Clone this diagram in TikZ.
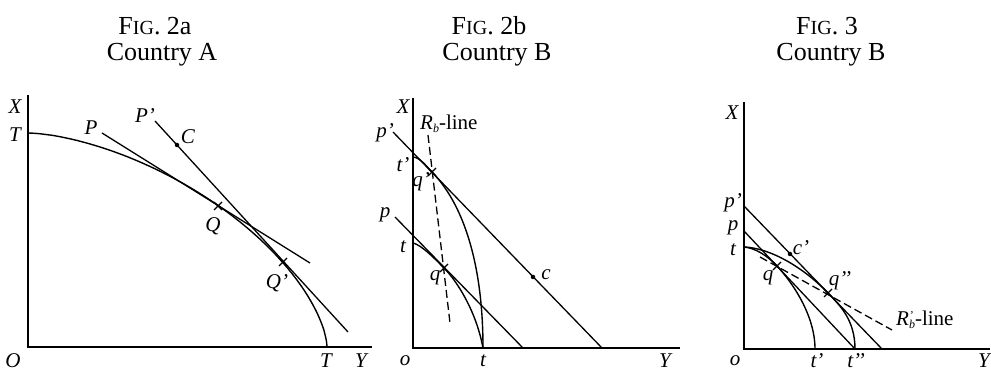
\documentclass[tikz,border=0pt]{standalone}
\usepackage{fontspec}
\setmainfont{Liberation Serif}
\begin{document}
\begin{tikzpicture}[x=1pt,y=-1pt,
  axis/.style={line width=1.5pt},
  curve/.style={line width=1.4pt},
  pline/.style={line width=1.3pt},
  rline/.style={line width=1.3pt,dash pattern=on 8pt off 4pt},
  lab/.style={font=\fontsize{21}{23}\selectfont\itshape,inner sep=0pt},
  ttl/.style={font=\fontsize{26}{28}\selectfont,inner sep=0pt,anchor=base},
  dotm/.style={circle,fill,inner sep=0pt,minimum size=4.5pt},
  tickm/.style={line width=1.2pt}]
\useasboundingbox (0,0) rectangle (991,371);

% ---------- titles ----------
\node[ttl] (f2a) at (155,35) {F{\fontsize{20}{22}\selectfont IG}. 2a};
\node[ttl] (c2a) at (162,61) {Country A};
\node[ttl] (f2b) at (489,35) {F{\fontsize{20}{22}\selectfont IG}. 2b};
\node[ttl] (c2b) at (497,61) {Country B};
\node[ttl] (f3) at (827,35) {F{\fontsize{20}{22}\selectfont IG}. 3};
\node[ttl] (c3) at (831,61) {Country B};

% ---------- Fig 2a ----------
\coordinate (X1) at (28,95);
\coordinate (O1) at (28,347);
\coordinate (Y1) at (372,347);
\draw[axis] (X1) -- (O1) -- (Y1);
\coordinate (T1a) at (28,133);
\coordinate (T1b) at (327,347);
\draw[curve] (T1b) -- plot[domain=0.5:89.5,samples=90,variable=\t]
  ({28+299*cos(\t)^1.25},{347-214*sin(\t)^1.25}) -- (T1a);
\coordinate (P1s) at (102,133);
\coordinate (P1e) at (310,263);
\coordinate (P2s) at (155,121);
\coordinate (P2e) at (348,332);
\draw[pline] (P1s) -- (P1e);
\draw[pline] (P2s) -- (P2e);
\coordinate (Q) at (218,206);
\coordinate (Qp) at (283,262);
\node[dotm] (C) at (177,145) {};
\draw[tickm] (Q) +(-4,-4) -- +(4,4) (Q) +(-4,4) -- +(4,-4);
\draw[tickm] (Qp) +(-4,-4) -- +(4,4) (Qp) +(-4,4) -- +(4,-4);
\node[lab] (lX1) at (15,107) {X};
\node[lab] (lT1) at (15,135) {T};
\node[lab] (lP) at (91,128) {P};
\node[lab] (lPp) at (145,116) {P'};
\node[lab] (lC) at (188,137) {C};
\node[lab] (lQ) at (213,226) {Q};
\node[lab] (lQp) at (277,283) {Q'};
\node[lab] (lO1) at (13,361) {O};
\node[lab] (lT1b) at (326,361) {T};
\node[lab] (lY1) at (361,361) {Y};

% ---------- Fig 2b ----------
\coordinate (X2) at (413,98);
\coordinate (O2) at (413,348);
\coordinate (Y2) at (680,348);
\draw[axis] (X2) -- (O2) -- (Y2);
\coordinate (pp2s) at (393,132);
\coordinate (pp2e) at (602,348);
\coordinate (p2s) at (395,217);
\coordinate (p2e) at (523,348);
\draw[pline] (pp2s) -- (pp2e);
\draw[pline] (p2s) -- (p2e);
\coordinate (R2s) at (428,135);
\coordinate (R2e) at (450,323);
\draw[rline] (R2s) -- (R2e);
\coordinate (tp2) at (413,157);
\coordinate (qp2) at (432,172);
\coordinate (tb2) at (483,348);
\coordinate (t2) at (413,243);
\coordinate (q2) at (444,268);
\draw[curve] (tp2) .. controls (420,157.5) and (426,165.8) .. (qp2)
  .. controls (464,205) and (483,265) .. (tb2);
\draw[curve] (t2) .. controls (422,245) and (437,261) .. (q2)
  .. controls (456,280) and (476,310) .. (tb2);
\draw[tickm] (qp2) +(-4,-4) -- +(4,4) (qp2) +(-4,4) -- +(4,-4);
\draw[tickm] (q2) +(-4,-4) -- +(4,4) (q2) +(-4,4) -- +(4,-4);
\node[dotm] (c2) at (533,277) {};
\node[lab] (lX2) at (403,107) {X};
\node[lab,anchor=west] (lR2) at (420,124) {R\raisebox{-0.35ex}{\fontsize{12}{13}\selectfont b}\upshape -line};
\node[lab] (lpp2) at (385,133) {p'};
\node[lab] (ltp2) at (403,165) {t'};
\node[lab] (lqp2) at (421,182) {q'};
\node[lab] (lp2) at (385,215) {p};
\node[lab] (lt2) at (403,247) {t};
\node[lab] (lq2) at (435,278) {q};
\node[lab] (lc2) at (546,275) {c};
\node[lab] (lo2) at (405,361) {o};
\node[lab] (ltb2) at (483,361) {t};
\node[lab] (lY2) at (665,361) {Y};

% ---------- Fig 3 ----------
\coordinate (X3) at (744,102);
\coordinate (O3) at (744,349);
\coordinate (Y3) at (990,349);
\draw[axis] (X3) -- (O3) -- (Y3);
\coordinate (pp3s) at (744,206);
\coordinate (pp3e) at (882,349);
\coordinate (p3s) at (744,231);
\coordinate (p3e) at (855,349);
\draw[pline] (pp3s) -- (pp3e);
\draw[pline] (p3s) -- (p3e);
\coordinate (R3s) at (760,257);
\coordinate (R3e) at (892,330);
\draw[rline] (R3s) -- (R3e);
\coordinate (t3) at (744,247);
\coordinate (q3) at (777,266);
\coordinate (qpp3) at (828,293);
\coordinate (tp3) at (815,349);
\coordinate (tpp3) at (855,349);
\draw[curve] (t3) .. controls (755,248) and (767,255.3) .. (q3)
  .. controls (792,282) and (815,315) .. (tp3);
\draw[curve] (t3) .. controls (770,248) and (803,267) .. (qpp3)
  .. controls (840,305.5) and (855,320) .. (tpp3);
\draw[tickm] (q3) +(-4,-4) -- +(4,4) (q3) +(-4,4) -- +(4,-4);
\draw[tickm] (qpp3) +(-4,-4) -- +(4,4) (qpp3) +(-4,4) -- +(4,-4);
\node[dotm] (c3) at (790,254) {};
\node[lab] (lX3) at (732,113) {X};
\node[lab] (lpp3) at (733,203) {p'};
\node[lab] (lp3) at (733,228) {p};
\node[lab] (lt3) at (733,250) {t};
\node[lab] (lc3) at (801,248) {c'};
\node[lab] (lq3) at (768,278) {q};
\node[lab] (lqpp3) at (840,281) {q{'}{'}};
\node[lab,anchor=west] (lR3) at (896,320) {R\rlap{\raisebox{0.6ex}{\fontsize{12}{13}\selectfont '}}\raisebox{-0.35ex}{\fontsize{12}{13}\selectfont b}\upshape -line};
\node[lab] (lo3) at (735,361) {o};
\node[lab] (ltp3) at (817,361) {t'};
\node[lab] (ltpp3) at (856,361) {t{'}{'}};
\node[lab] (lY3) at (984,361) {Y};
\end{tikzpicture}
\end{document}
